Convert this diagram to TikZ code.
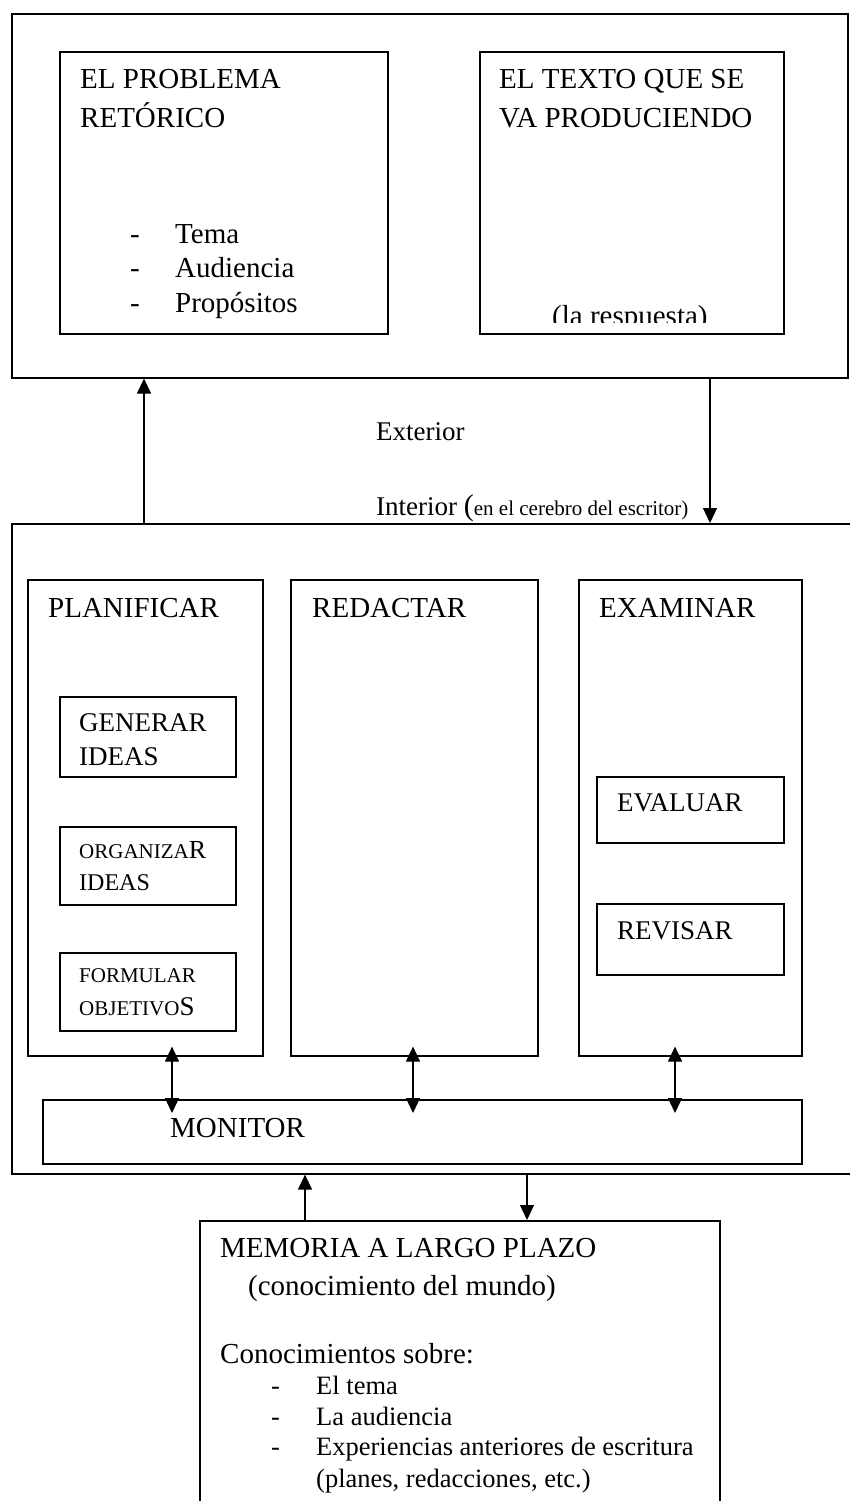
\documentclass[tikz,border=0pt]{standalone}
\usepackage{fontspec}
\setmainfont{Liberation Serif}
\usetikzlibrary{arrows.meta,positioning}

\newcommand{\fsz}[1]{\fontsize{#1}{#1}\selectfont}

\begin{document}
\begin{tikzpicture}[x=1pt, y=-1pt,
    box/.style={draw, line width=1.6pt, inner sep=0pt, anchor=north west},
    lbl/.style={anchor=base west, inner sep=0pt, font=\fsz{29}},
    lblm/.style={lbl, font=\fsz{27}},
    lbls/.style={lbl, font=\fsz{21}},
    arr/.style={line width=1.2pt, -{Triangle[length=15pt,width=14pt]}},
    dbl/.style={line width=1.2pt, {Triangle[length=15pt,width=14pt]}-{Triangle[length=15pt,width=14pt]}}]
    \useasboundingbox (0,0) rectangle (850,1501);

    % exterior
    \node [box, minimum width=836pt, minimum height=364pt] (exterior) at (11,13) {};
    \node [box, minimum width=328pt, minimum height=282pt] (problema) at (59,51) {};
    \node [box, minimum width=304pt, minimum height=282pt] (texto) at (479,51) {};

    \node [lbl] (prob1) at (80,89) {EL PROBLEMA};
    \node [lbl] (prob2) at (80,128) {RETÓRICO};
    \node [lbl] (d1) at (130,243) {-};
    \node [lbl] (d2) at (130,277) {-};
    \node [lbl] (d3) at (130,312) {-};
    \node [lbl] (tema) at (175,243) {Tema};
    \node [lbl] (aud) at (175,277) {Audiencia};
    \node [lbl] (prop) at (175,312) {Propósitos};

    \node [lbl] (tex1) at (499,89) {EL TEXTO QUE SE};
    \node [lbl] (tex2) at (499,128) {VA PRODUCIENDO};
    \begin{scope}
        \clip (479,290) rectangle (783,322);
        \node [lbl] (resp) at (552,325) {(la respuesta)};
    \end{scope}

    \node [lblm] (ext) at (376,440) {Exterior};
    \node [lblm] (int) at (376,515) {Interior {\fsz{30}(}{\fsz{21}en el cerebro del escritor)}};

    % interior
    \node [box, minimum width=859pt, minimum height=650pt] (interior) at (11,523) {};
    \node [box, minimum width=235pt, minimum height=476pt] (plan) at (27,579) {};
    \node [box, minimum width=247pt, minimum height=476pt] (red) at (290,579) {};
    \node [box, minimum width=223pt, minimum height=476pt] (exam) at (578,579) {};
    \node [lbl] (planl) at (48,617) {PLANIFICAR};
    \node [lbl] (redl) at (312,617) {REDACTAR};
    \node [lbl] (examl) at (599,617) {EXAMINAR};

    \node [box, minimum width=176pt, minimum height=80pt] (gen) at (59,696) {};
    \node [box, minimum width=176pt, minimum height=78pt] (org) at (59,826) {};
    \node [box, minimum width=176pt, minimum height=78pt] (form) at (59,952) {};
    \node [lblm] (gen1) at (79,731) {GENERAR};
    \node [lblm] (gen2) at (79,765) {IDEAS};
    \node [lbls] (org1) at (79,858) {ORGANIZA{\fsz{26}R}};
    \node [lbl, font=\fsz{24}] (org2) at (79,890) {IDEAS};
    \node [lbls] (form1) at (79,982) {FORMULAR};
    \node [lbls] (form2) at (79,1015) {OBJETIVO{\fsz{27}S}};

    \node [box, minimum width=187pt, minimum height=66pt] (eval) at (596,776) {};
    \node [box, minimum width=187pt, minimum height=71pt] (rev) at (596,903) {};
    \node [lblm] (evall) at (617,811) {EVALUAR};
    \node [lblm] (revl) at (617,939) {REVISAR};

    \node [box, minimum width=759pt, minimum height=64pt] (mon) at (42,1099) {};
    \node [lbl] (monl) at (170,1137) {MONITOR};

    % memoria
    \node [box, minimum width=520pt, minimum height=300pt] (mem) at (199,1220) {};
    \node [lbl] (mem1) at (220,1257) {MEMORIA A LARGO PLAZO};
    \node [lbl] (mem2) at (248,1295) {(conocimiento del mundo)};
    \node [lbl] (mem3) at (220,1363) {Conocimientos sobre:};
    \node [lbl, font=\fsz{26.5}] (m1) at (271,1394) {-};
    \node [lbl, font=\fsz{26.5}] (m2) at (271,1425) {-};
    \node [lbl, font=\fsz{26.5}] (m3) at (271,1455) {-};
    \node [lbl, font=\fsz{26.5}] (memt) at (316,1394) {El tema};
    \node [lbl, font=\fsz{26.5}] (mema) at (316,1425) {La audiencia};
    \node [lbl, font=\fsz{26.5}] (meme) at (316,1455) {Experiencias anteriores de escritura};
    \node [lbl, font=\fsz{26.5}] (memp) at (316,1487) {(planes, redacciones, etc.)};

    \coordinate (ax1) at (144,0);
    \coordinate (ax2) at (710,0);
    \coordinate (bx1) at (172,0);
    \coordinate (bx2) at (413,0);
    \coordinate (bx3) at (675,0);
    \coordinate (cx1) at (305,0);
    \coordinate (cx2) at (527,0);

    \draw [arr] (interior.north -| ax1) -- (exterior.south -| ax1);
    \draw [arr] (exterior.south -| ax2) -- (interior.north -| ax2);
    \draw [dbl, shorten <=-14pt, shorten >=-10pt] (mon.north -| bx1) -- (plan.south -| bx1);
    \draw [dbl, shorten <=-14pt, shorten >=-10pt] (mon.north -| bx2) -- (red.south -| bx2);
    \draw [dbl, shorten <=-14pt, shorten >=-10pt] (mon.north -| bx3) -- (exam.south -| bx3);
    \draw [arr] (mem.north -| cx1) -- (interior.south -| cx1);
    \draw [arr] (interior.south -| cx2) -- (mem.north -| cx2);
\end{tikzpicture}
\end{document}
